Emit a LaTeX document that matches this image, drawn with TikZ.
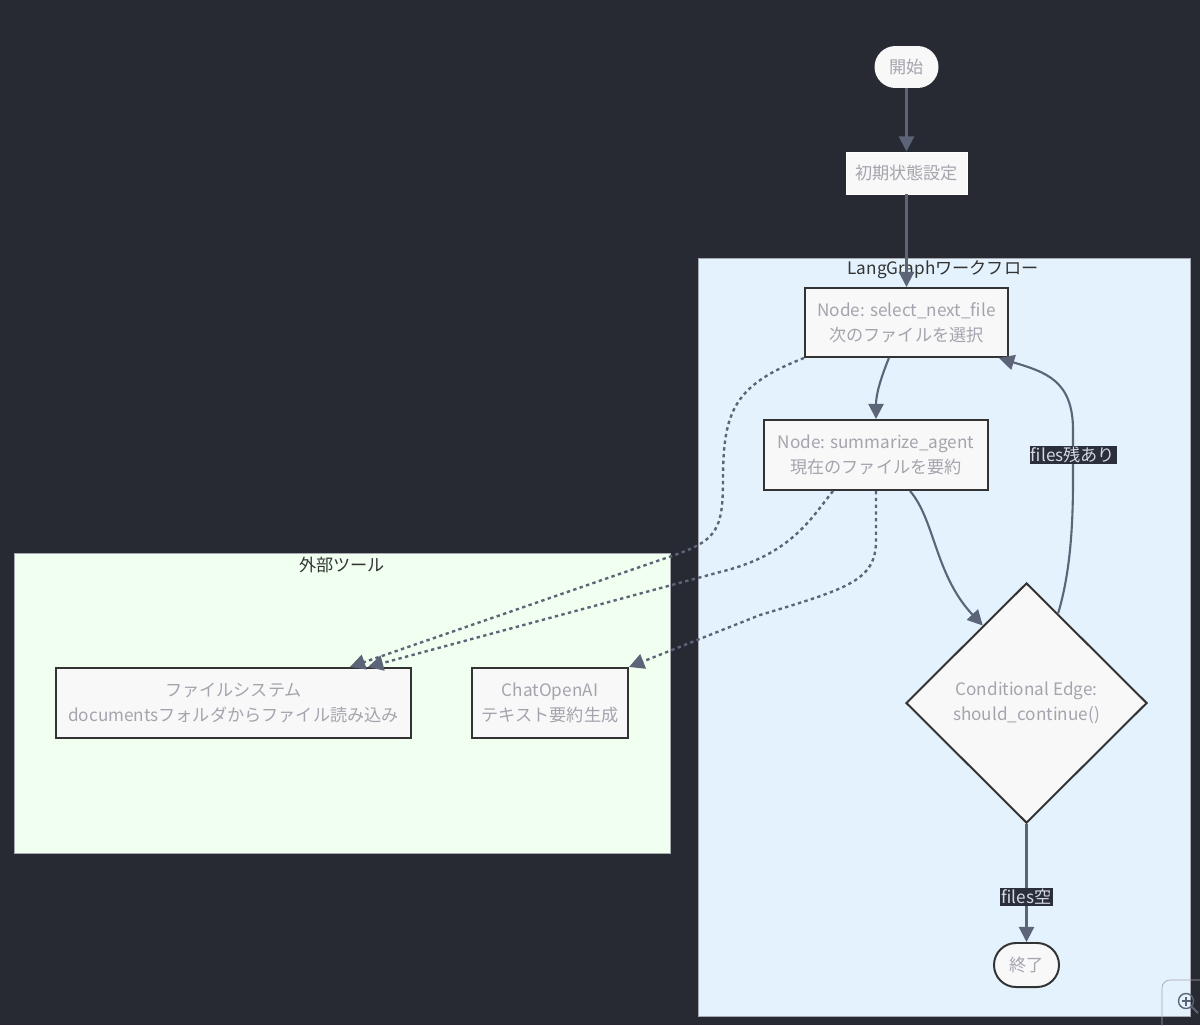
\documentclass[tikz,border=0pt]{standalone}
\usepackage{fontspec}
\setmainfont{Noto Sans CJK JP}
\usetikzlibrary{shapes.geometric,arrows.meta,calc}
\definecolor{bgc}{HTML}{282A33}
\definecolor{lgfill}{HTML}{E3F2FD}
\definecolor{extfill}{HTML}{F0FFF0}
\definecolor{subline}{HTML}{A8A8B0}
\definecolor{nodefill}{HTML}{F8F8F8}
\definecolor{boxline}{HTML}{333333}
\definecolor{nodetext}{HTML}{A4A4AE}
\definecolor{edgec}{HTML}{5C6478}
\definecolor{lblbg}{HTML}{2B2E3B}
\definecolor{lbltext}{HTML}{D4D8E2}
\definecolor{titletext}{HTML}{333333}
\begin{document}
\begin{tikzpicture}[x=0.025cm,y=-0.025cm,
  font=\fontsize{12.2pt}{17.8pt}\selectfont,
  box/.style={draw=boxline, line width=1.4pt, fill=nodefill, text=nodetext, align=center, inner sep=0pt},
  subbox/.style={draw=subline, line width=0.7pt},
  subtitle/.style={text=titletext, inner sep=0pt},
  arr/.style={draw=edgec, line width=1.5pt, -{Triangle[length=0.38cm,width=0.38cm]}},
  dotarr/.style={arr, line width=1.7pt, dash pattern=on 2.4pt off 2.4pt},
  lbl/.style={fill=lblbg, text=lbltext, inner sep=1pt}]
\fill[bgc] (0,0) rectangle (1200,1025);
\useasboundingbox (0,0) rectangle (1200,1025);
% subgraphs
\draw[subbox, fill=lgfill] (698,258) rectangle (1190,1016);
\node[subtitle] (lgt) at (943,270) {LangGraphワークフロー};
\draw[subbox, fill=extfill] (14,553) rectangle (670,853);
\node[subtitle] (ext) at (342,565) {外部ツール};
% nodes
\node[box, draw=nodefill, rounded corners=0.5cm, minimum width=1.55cm, minimum height=1cm] (start) at (906.5,67) {開始};
\node[box, draw=white, line width=0.7pt, minimum width=3.025cm, minimum height=1.05cm] (init) at (906.5,173) {初期状態設定};
\node[box, minimum width=5.075cm, minimum height=1.725cm] (sel) at (906.5,322.5) {Node: select\_next\_file\\次のファイルを選択};
\node[box, minimum width=5.6cm, minimum height=1.75cm] (sum) at (876,455) {Node: summarize\_agent\\現在のファイルを要約};
\node[box, diamond, minimum width=6.025cm, minimum height=6cm] (dia) at (1026.5,703) {Conditional Edge:\\should\_continue()};
\node[box, rounded corners=0.55cm, minimum width=1.625cm, minimum height=1.1cm] (end) at (1026.5,965) {終了};
\node[box, minimum width=8.875cm, minimum height=1.75cm] (fs) at (233.5,703) {ファイルシステム\\documentsフォルダからファイル読み込み};
\node[box, minimum width=3.9cm, minimum height=1.75cm] (ai) at (550,703) {ChatOpenAI\\テキスト要約生成};
\coordinate (dTL) at ($(dia.north)!0.36!(dia.west)$);
\coordinate (dTR) at ($(dia.north)!0.26!(dia.east)$);
% edges
\draw[arr] (start) -- (init);
\draw[arr] (init) -- (sel);
\draw[arr] ([xshift=-0.44cm]sel.south) .. controls (880,380) and (876,395) .. (sum.north);
\draw[arr] ([xshift=0.85cm]sum.south) .. controls (935,520) and (935,575) .. (dTL);
\draw[arr] (dTR) .. controls (1068,580) and (1073,540) .. (1073,480)
  -- node[lbl] (l1) {files残あり} (1073,430)
  .. controls (1073,380) and (1045,372) .. ([xshift=-0.25cm]sel.south east);
\draw[arr] (dia.south) -- node[lbl, pos=0.62] (l2) {files空} (end.north);
% dotted edges to tools
\draw[dotarr] (sel.south west) .. controls (735,385) and (723,410) .. (723,480)
  .. controls (723,535) and (715,542) .. (660,560) -- ([xshift=2.91cm]fs.north);
\draw[dotarr] ([xshift=-1.075cm]sum.south) .. controls (810,520) and (790,555) .. (720,572) -- ([xshift=3.36cm]fs.north);
\draw[dotarr] (sum.south) -- (876,540) .. controls (876,580) and (850,588) .. (760,615) -- (ai.north east);
% zoom widget
\begin{scope}
\clip (0,0) rectangle (1200,1025);
\draw[subline, line width=0.5pt, rounded corners=0.2cm] (1162,980) rectangle (1215,1040);
\draw[draw=edgec, line width=1pt] (1186,1001) circle (7.5);
\draw[draw=edgec, line width=1pt] (1181.5,1001) -- (1190.5,1001) (1186,996.5) -- (1186,1005.5);
\draw[draw=edgec, line width=1.3pt] (1191.5,1006.5) -- (1198,1013);
\end{scope}
\end{tikzpicture}
\end{document}
